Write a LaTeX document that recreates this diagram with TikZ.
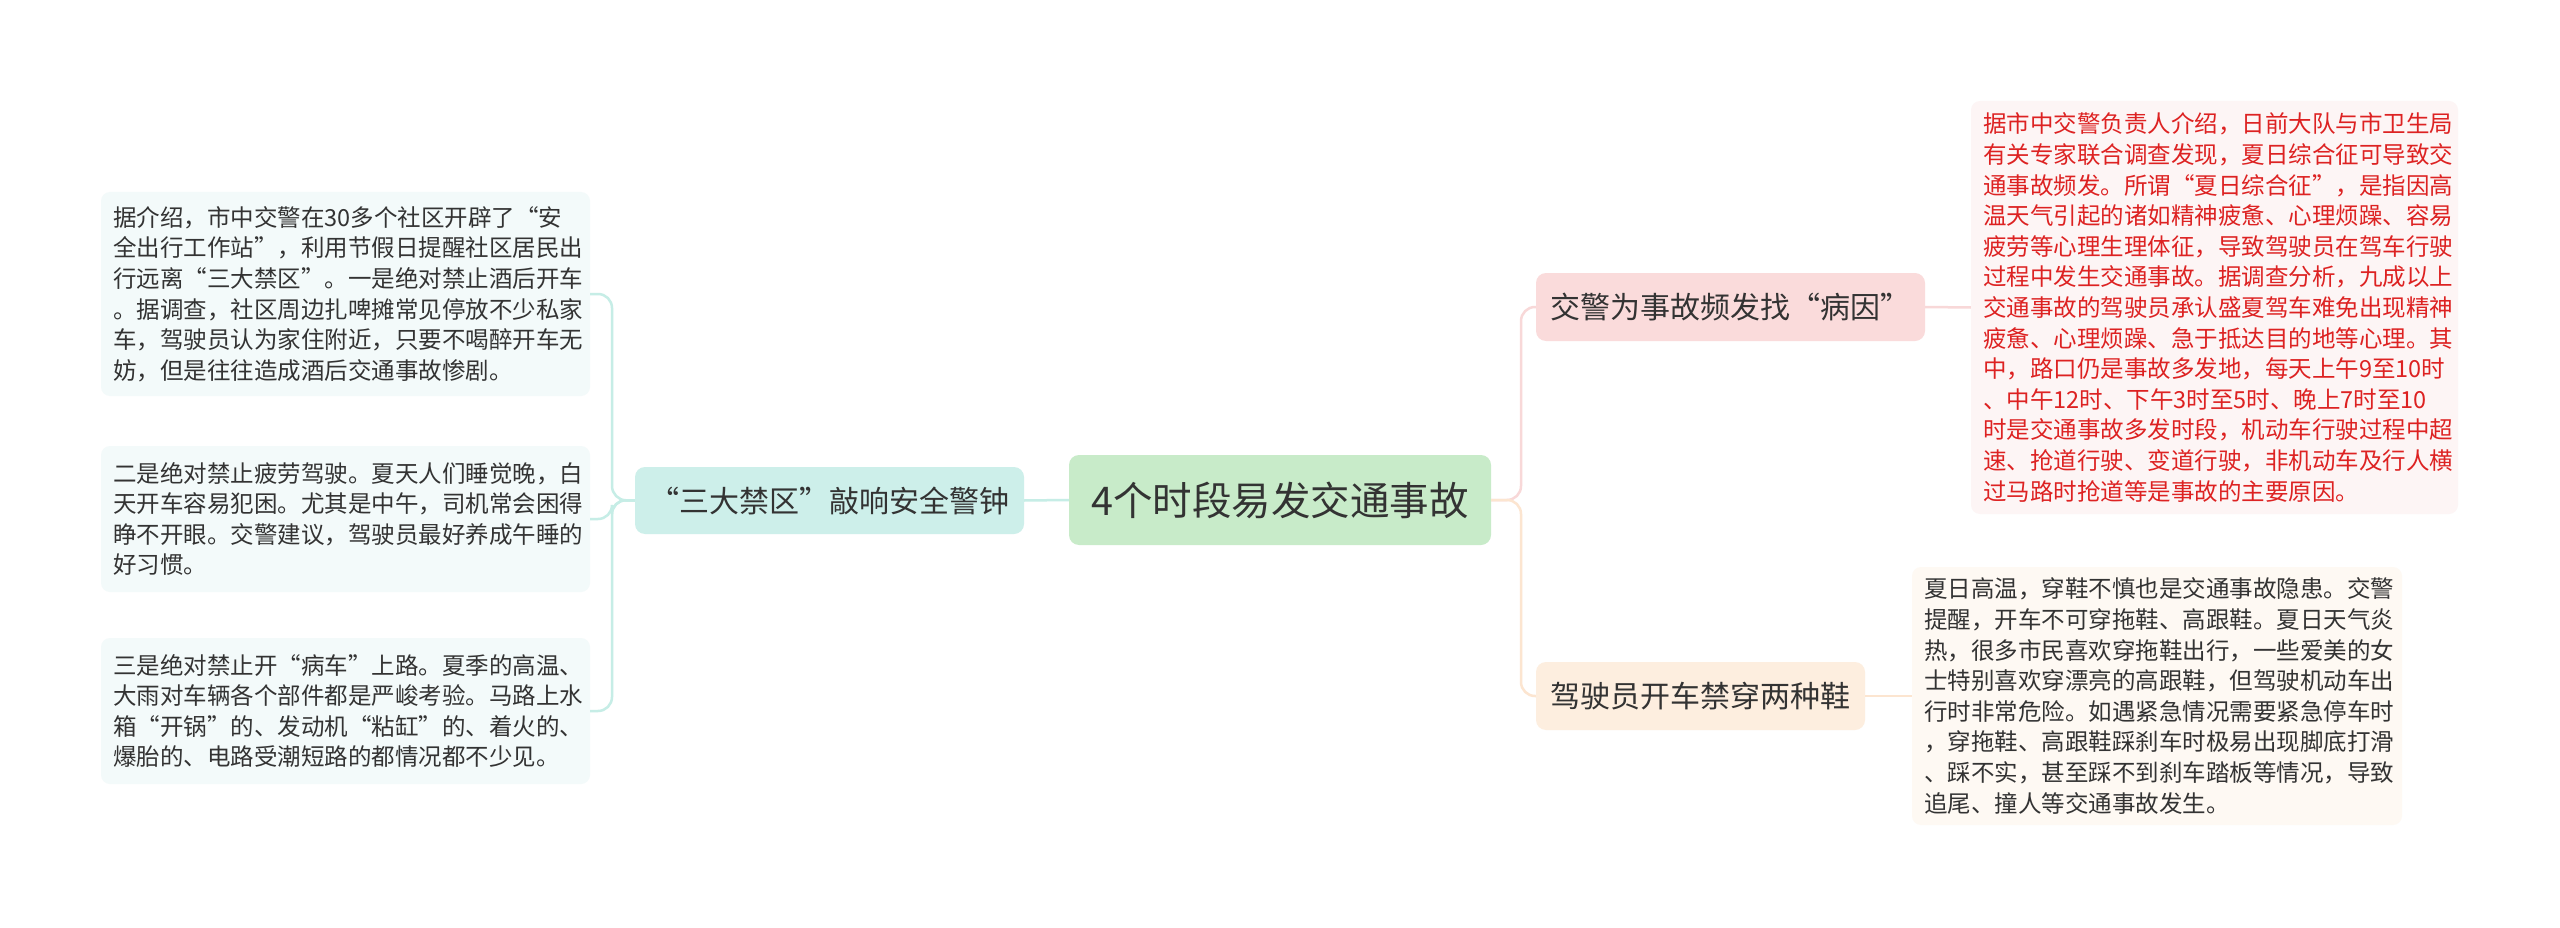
\documentclass[tikz,border=0pt]{standalone}
\usepackage{fontspec}
\setmainfont{Noto Sans CJK SC}
\definecolor{txt}{HTML}{333333}
\definecolor{rootfill}{HTML}{C8EBC9}
\definecolor{tealfill}{HTML}{CDEFEA}
\definecolor{tealleaf}{HTML}{F3FAFA}
\definecolor{tealline}{HTML}{C6EDE6}
\definecolor{pinkfill}{HTML}{FADBDB}
\definecolor{pinkleaf}{HTML}{FDF5F5}
\definecolor{pinkline}{HTML}{F8D8D8}
\definecolor{redtxt}{HTML}{DD2222}
\definecolor{orfill}{HTML}{FDEEDF}
\definecolor{orleaf}{HTML}{FEF9F3}
\definecolor{orline}{HTML}{FCE5D0}
\tikzset{
  leaf/.style={rounded corners=9pt, inner xsep=12pt, inner ysep=0pt, align=left,
    font=\fontsize{23.5}{30.6}\selectfont, text=txt},
  branch/.style={rounded corners=10pt, inner sep=0pt, align=center,
    font=\fontsize{30}{34}\selectfont, text=txt},
  conn/.style={line width=2.5pt, rounded corners=14pt}
}
\begin{document}
\begin{tikzpicture}[x=1pt,y=-1pt]
\useasboundingbox[fill=white] (0,0) rectangle (2560,928);

% root
\node[rounded corners=10pt, fill=rootfill, minimum width=422pt, minimum height=90pt,
  inner sep=0pt, font=\fontsize{39.5}{44}\selectfont, text=txt] (root) at (1280,500) {4个时段易发交通事故};

% left branch
\node[branch, fill=tealfill, minimum width=389pt, minimum height=67pt] (b1) at (829.5,500.5) {“三大禁区”敲响安全警钟};

\node[leaf, fill=tealleaf, text width=465pt, minimum height=204pt] (l1) at (345.5,294) {据介绍，市中交警在30多个社区开辟了“安\\全出行工作站”，利用节假日提醒社区居民出\\行远离“三大禁区”。一是绝对禁止酒后开车\\。据调查，社区周边扎啤摊常见停放不少私家\\车，驾驶员认为家住附近，只要不喝醉开车无\\妨，但是往往造成酒后交通事故惨剧。};

\node[leaf, fill=tealleaf, text width=465pt, minimum height=146pt] (l2) at (345.5,519) {二是绝对禁止疲劳驾驶。夏天人们睡觉晚，白\\天开车容易犯困。尤其是中午，司机常会困得\\睁不开眼。交警建议，驾驶员最好养成午睡的\\好习惯。};

\node[leaf, fill=tealleaf, text width=465pt, minimum height=146pt] (l3) at (345.5,711) {三是绝对禁止开“病车”上路。夏季的高温、\\大雨对车辆各个部件都是严峻考验。马路上水\\箱“开锅”的、发动机“粘缸”的、着火的、\\爆胎的、电路受潮短路的都情况都不少见。};

% right branches
\node[branch, fill=pinkfill, minimum width=389pt, minimum height=68pt] (b2) at (1730.5,307) {交警为事故频发找“病因”};
\node[branch, fill=orfill, minimum width=329pt, minimum height=68pt] (b3) at (1700.5,696) {驾驶员开车禁穿两种鞋};

\node[leaf, fill=pinkleaf, text=redtxt, text width=463pt, minimum height=413pt] (r1) at (2214.5,307.5) {据市中交警负责人介绍，日前大队与市卫生局\\有关专家联合调查发现，夏日综合征可导致交\\通事故频发。所谓“夏日综合征”，是指因高\\温天气引起的诸如精神疲惫、心理烦躁、容易\\疲劳等心理生理体征，导致驾驶员在驾车行驶\\过程中发生交通事故。据调查分析，九成以上\\交通事故的驾驶员承认盛夏驾车难免出现精神\\疲惫、心理烦躁、急于抵达目的地等心理。其\\中，路口仍是事故多发地，每天上午9至10时\\、中午12时、下午3时至5时、晚上7时至10\\时是交通事故多发时段，机动车行驶过程中超\\速、抢道行驶、变道行驶，非机动车及行人横\\过马路时抢道等是事故的主要原因。};

\node[leaf, fill=orleaf, text width=466pt, minimum height=258pt] (r2) at (2157,696) {夏日高温，穿鞋不慎也是交通事故隐患。交警\\提醒，开车不可穿拖鞋、高跟鞋。夏日天气炎\\热，很多市民喜欢穿拖鞋出行，一些爱美的女\\士特别喜欢穿漂亮的高跟鞋，但驾驶机动车出\\行时非常危险。如遇紧急情况需要紧急停车时\\，穿拖鞋、高跟鞋踩刹车时极易出现脚底打滑\\、踩不实，甚至踩不到刹车踏板等情况，导致\\追尾、撞人等交通事故发生。};

% connectors
\draw[conn, tealline] (root.west) -- (b1.east);
\draw[conn, tealline] (b1.west) -- (612,500) -- (612,294) -- (l1.east);
\draw[conn, tealline] (b1.west) -- (612,500) -- (612,519) -- (l2.east);
\draw[conn, tealline] (b1.west) -- (612,500) -- (612,711) -- (l3.east);
\draw[conn, pinkline] (root.east) -- (1521,500) -- (1521,307) -- (b2.west);
\draw[conn, orline] (root.east) -- (1521,500) -- (1521,696) -- (b3.west);
\draw[conn, pinkline] (b2.east) -- (r1.west);
\draw[conn, orline] (b3.east) -- (r2.west);
\end{tikzpicture}
\end{document}
